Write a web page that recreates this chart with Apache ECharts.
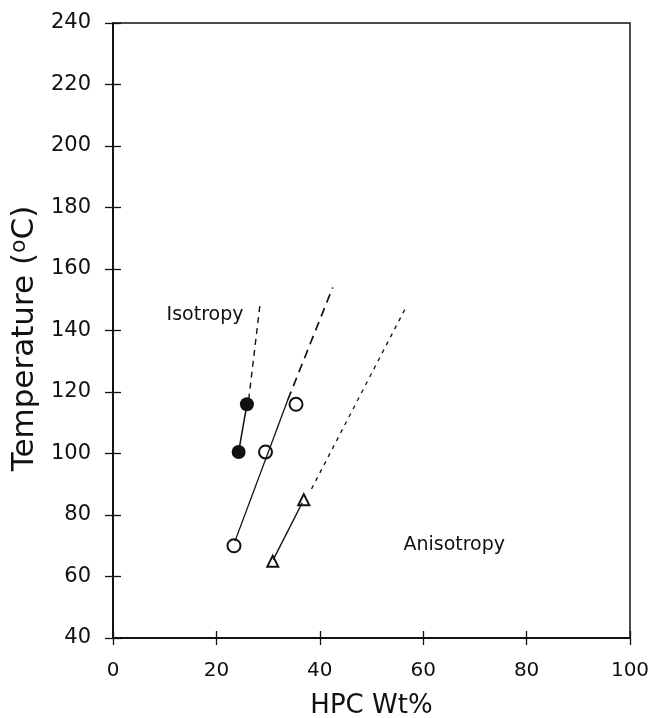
<!DOCTYPE html>
<html>
<head>
<meta charset="utf-8">
<script src="https://cdn.jsdelivr.net/npm/echarts@6/dist/echarts.min.js"></script>
<style>
  html, body { margin: 0; padding: 0; background: #fff; }
  #chart { width: 655px; height: 718px; }
</style>
</head>
<body>
<div id="chart"></div>
<script>
// filled circles: measured points, solid join, dashed extension
const filledPts = [[24.3, 100.5], [25.9, 116]]
const filledDash = [[26.0, 114], [28.4, 148]]
// open circles: measured points, solid fit, dashed extension
const openPts = [[23.4, 70], [29.5, 100.5], [35.4, 116]]
const openSolid = [[23.6, 71.5], [33.8, 117.4]]
const openDash = [[33.8, 117.4], [42.5, 154]]
// triangles: measured points, solid join, dashed extension
const triPts = [[30.9, 65], [36.9, 85]]
const triSolid = [[31.0, 65.5], [36.6, 84]]
const triDash = [[38.4, 88.5], [56.8, 148]]
// region labels
const regionLabels = [
    { name: 'Isotropy', value: [17.8, 145.0] },
    { name: 'Anisotropy', value: [66.0, 70.3] }
]

const font = '"DejaVu Sans", sans-serif'
const ink = '#111'

const gridBox = { left: 113, right: 25, top: 23, bottom: 80, outerBoundsMode: 'none' }

const chart = echarts.init(document.getElementById('chart'), null, { renderer: 'canvas' })

const xMain = {
    gridIndex: 0,
    type: 'value',
    min: 0,
    max: 100,
    interval: 20,
    position: 'bottom',
    splitLine: { show: false },
    axisLine: { lineStyle: { color: ink, width: 1.5 } },
    axisTick: { inside: false, length: 7, lineStyle: { color: ink, width: 1.3 } },
    axisLabel: { margin: 23, color: ink, fontFamily: font, fontSize: 20 },
    name: 'HPC Wt%',
    nameLocation: 'middle',
    nameGap: 55,
    nameTextStyle: { color: ink, fontFamily: font, fontSize: 26 }
}
// copy of the x axis on an identical second grid, only to draw the inward half of each tick
const xInner = {
    gridIndex: 1,
    type: 'value',
    min: 0,
    max: 100,
    interval: 20,
    position: 'bottom',
    splitLine: { show: false },
    axisLine: { show: true, onZero: false, lineStyle: { color: ink, width: 1.5 } },
    axisTick: { show: true, inside: true, length: 7, lineStyle: { color: ink, width: 1.3 } },
    axisLabel: { show: false }
}

const yMain = {
    gridIndex: 0,
    type: 'value',
    min: 40,
    max: 240,
    interval: 20,
    position: 'left',
    splitLine: { show: false },
    axisLine: { lineStyle: { color: ink, width: 1.5 } },
    axisTick: { inside: false, length: 8, lineStyle: { color: ink, width: 1.3 } },
    axisLabel: { margin: 22, color: ink, fontFamily: font, fontSize: 21 },
    name: '{a|Temperature (}{s|o}{a|C)}',
    nameLocation: 'middle',
    nameGap: 69,
    nameTextStyle: {
        color: ink,
        fontFamily: font,
        padding: [0, 16, 0, 0],
        rich: {
            a: { fontSize: 31, fontFamily: font, color: ink },
            s: { fontSize: 22, fontFamily: font, color: ink, padding: [0, 0, 10, 0] }
        }
    }
}
const yInner = {
    gridIndex: 1,
    type: 'value',
    min: 40,
    max: 240,
    interval: 20,
    position: 'left',
    splitLine: { show: false },
    axisLine: { show: true, onZero: false, lineStyle: { color: ink, width: 1.5 } },
    axisTick: { show: true, inside: true, length: 8, lineStyle: { color: ink, width: 1.3 } },
    axisLabel: { show: false }
}

function lineSeries (data, type, width) {
    return {
        type: 'line',
        data: data,
        symbol: 'none',
        silent: true,
        lineStyle: { color: ink, width: width, type: type }
    }
}

const option = {
    backgroundColor: '#fff',
    animation: false,
    grid: [
        Object.assign({ show: true, borderColor: ink, borderWidth: 1.5 }, gridBox),
        Object.assign({ show: false }, gridBox)
    ],
    xAxis: [xMain, xInner],
    yAxis: [yMain, yInner],
    series: [
        lineSeries(filledPts, 'solid', 1.5),
        lineSeries(filledDash, [6, 5], 1.4),
        lineSeries(openSolid, 'solid', 1.3),
        lineSeries(openDash, [9, 6], 1.7),
        lineSeries(triSolid, 'solid', 1.4),
        lineSeries(triDash, [4, 5], 1.3),
        {
            type: 'scatter',
            data: filledPts,
            symbol: 'circle',
            symbolSize: 14,
            itemStyle: { color: ink, opacity: 1 }
        },
        {
            type: 'scatter',
            data: openPts,
            symbol: 'circle',
            symbolSize: 13,
            itemStyle: { color: '#fff', borderColor: ink, borderWidth: 2, opacity: 1 }
        },
        {
            type: 'scatter',
            data: triPts,
            symbol: 'triangle',
            symbolSize: 11,
            itemStyle: { color: '#fff', borderColor: ink, borderWidth: 2, opacity: 1 }
        },
        {
            // region names sit on the second (identical) grid so its tick-only axes get drawn
            type: 'scatter',
            xAxisIndex: 1,
            yAxisIndex: 1,
            data: regionLabels,
            symbolSize: 0,
            itemStyle: { opacity: 1 },
            label: {
                show: true,
                position: 'inside',
                formatter: '{b}',
                color: ink,
                opacity: 1,
                fontFamily: font,
                fontSize: 19
            }
        }
    ]
}
chart.setOption(option)
</script>
</body>
</html>
